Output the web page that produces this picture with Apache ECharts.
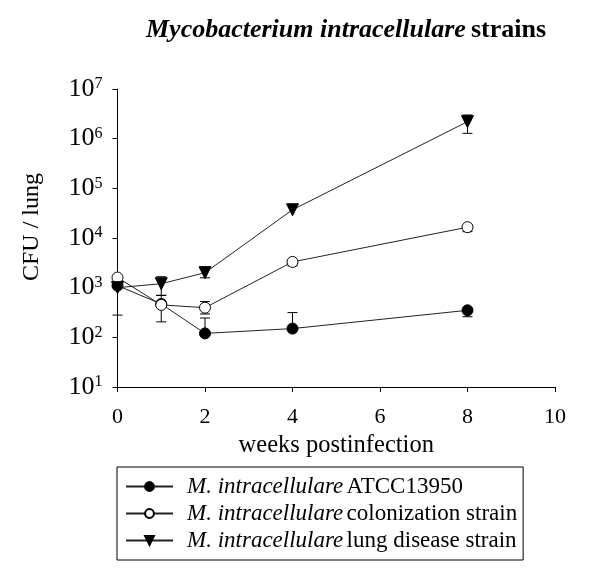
<!DOCTYPE html>
<html>
<head>
<meta charset="utf-8">
<script src="https://cdn.jsdelivr.net/npm/echarts@6/dist/echarts.min.js"></script>
<style>html,body{margin:0;padding:0;background:#fff;}#c{width:616px;height:582px;}</style>
</head>
<body>
<div id="c"></div>
<script>
const weeks = [0, 1, 2, 4, 8];
const seriesNames = ['ATCC13950', 'colonization strain', 'lung disease strain'];
const atcc = [1100, 470, 120, 150, 350];
const atccLow = [280, null, null, null, 260];
const atccHigh = [null, null, 245, 315, null];
const colon = [1600, 450, 395, 3300, 16500];
const colonLow = [null, 205, 295, 2750, 13400];
const colonHigh = [null, 700, 525, null, null];
const lung = [1000, 1200, 2000, 37000, 2200000];
const lungLow = [null, 700, 1580, null, 1280000];
const lungHigh = [null, 1660, 2600, null, 3000000];
const xTicks = [0, 2, 4, 6, 8, 10];

const FONT = '"Liberation Serif", "DejaVu Serif", serif';

function pairs(vals) { return weeks.map((w, i) => [w, vals[i]]); }
function errData(low, high, vals) {
  const out = [];
  weeks.forEach((w, i) => {
    if (low[i] != null) out.push([w, vals[i], low[i]]);
    if (high[i] != null) out.push([w, vals[i], high[i]]);
  });
  return out;
}
function errSeries(name, data) {
  return {
    type: 'custom', name: name + ' err', z: 1, silent: true,
    renderItem: function (params, api) {
      const p0 = api.coord([api.value(0), api.value(1)]);
      const p1 = api.coord([api.value(0), api.value(2)]);
      const hw = 5;
      return {
        type: 'group',
        children: [
          { type: 'line', shape: { x1: p0[0], y1: p0[1], x2: p1[0], y2: p1[1] }, style: { stroke: '#000', lineWidth: 1 } },
          { type: 'line', shape: { x1: p1[0] - hw, y1: p1[1], x2: p1[0] + hw, y2: p1[1] }, style: { stroke: '#000', lineWidth: 1 } }
        ]
      };
    },
    encode: { x: 0, y: [1, 2] },
    data: data
  };
}

const chart = echarts.init(document.getElementById('c'));
chart.setOption({
  animation: false,
  backgroundColor: '#fff',
  title: {
    text: '{bi|Mycobacterium intracellulare} {b|strains}',
    left: 341, top: 12, textAlign: 'center',
    textStyle: {
      rich: {
        bi: { fontFamily: FONT, fontSize: 26, fontWeight: 'bold', fontStyle: 'italic', color: '#000' },
        b: { fontFamily: FONT, fontSize: 26, fontWeight: 'bold', color: '#000' }
      }
    }
  },
  grid: { left: 117.5, right: 61, top: 89, bottom: 195, containLabel: false },
  xAxis: {
    type: 'value', min: 0, max: 10, interval: 2,
    name: 'weeks postinfection', nameLocation: 'middle', nameGap: 41,
    nameTextStyle: { fontFamily: FONT, fontSize: 24.5, color: '#000' },
    axisLine: { lineStyle: { color: '#000', width: 1 } },
    axisTick: { inside: false, length: 5, lineStyle: { color: '#000' } },
    axisLabel: { fontFamily: FONT, fontSize: 22, color: '#000', margin: 19 },
    splitLine: { show: false }
  },
  yAxis: {
    type: 'log', logBase: 10, min: 10, max: 10000000,
    name: 'CFU / lung', nameLocation: 'middle', nameGap: 74,
    nameTextStyle: { fontFamily: FONT, fontSize: 24, color: '#000', padding: [0, 0, 0, 22] },
    axisLine: { show: true, lineStyle: { color: '#000', width: 1 } },
    axisTick: { show: true, inside: false, length: 5, lineStyle: { color: '#000' } },
    axisLabel: {
      margin: 15,
      formatter: function (v) {
        const e = Math.round(Math.log10(v));
        return '{b|10}{s|' + e + '}';
      },
      rich: {
        b: { fontFamily: FONT, fontSize: 26, color: '#000', lineHeight: 26 },
        s: { fontFamily: FONT, fontSize: 16, color: '#000', verticalAlign: 'top', lineHeight: 16 }
      }
    },
    splitLine: { show: false }
  },
  legend: {
    orient: 'vertical', left: 117, top: 467,
    itemWidth: 47, itemHeight: 11, itemGap: 4,
    padding: [8, 6, 8, 8],
    borderColor: '#000', borderWidth: 1,
    data: seriesNames,
    formatter: function (n) { return '{i|M. intracellulare} {n|' + n + '}'; },
    textStyle: {
      rich: {
        i: { fontFamily: FONT, fontSize: 23, fontStyle: 'italic', color: '#000', lineHeight: 23, padding: [0, 0, 0, 9] },
        n: { fontFamily: FONT, fontSize: 23, color: '#000', lineHeight: 23 }
      }
    }
  },
  series: [
    errSeries('a', errData(atccLow, atccHigh, atcc)),
    errSeries('c', errData(colonLow, colonHigh, colon)),
    errSeries('l', errData(lungLow, lungHigh, lung)),
    {
      name: seriesNames[0], type: 'line', z: 3, data: pairs(atcc),
      symbol: 'circle', symbolSize: 11,
      lineStyle: { color: '#222', width: 1 },
      itemStyle: { color: '#000', borderColor: '#000', borderWidth: 1 }
    },
    {
      name: seriesNames[1], type: 'line', z: 4, data: pairs(colon),
      symbol: 'circle', symbolSize: 11,
      lineStyle: { color: '#222', width: 1 },
      itemStyle: { color: '#fff', borderColor: '#000', borderWidth: 1 }
    },
    {
      name: seriesNames[2], type: 'line', z: 5, data: pairs(lung),
      symbol: 'triangle', symbolRotate: 180, symbolSize: 12,
      lineStyle: { color: '#222', width: 1 },
      itemStyle: { color: '#000', borderColor: '#000', borderWidth: 1 }
    }
  ]
});
</script>
</body>
</html>
